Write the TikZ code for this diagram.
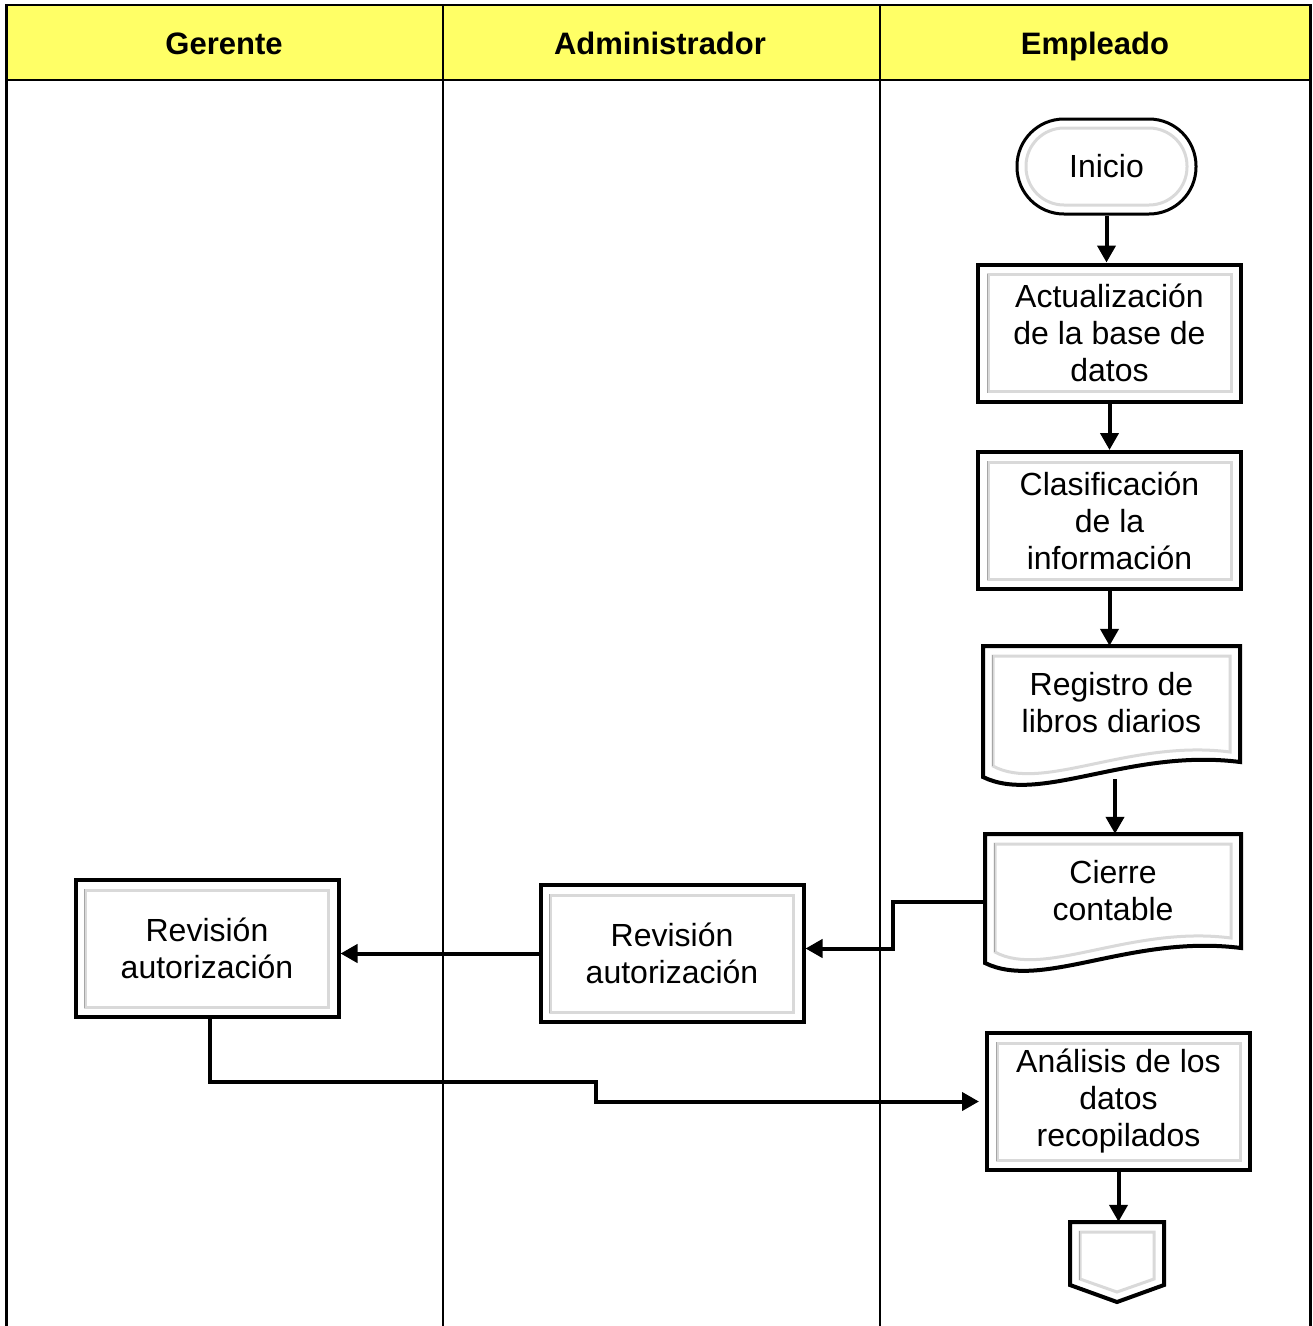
\documentclass[tikz,border=0pt]{standalone}
\usepackage{fontspec}
\setmainfont{Liberation Sans}
\usetikzlibrary{arrows.meta,positioning}
\definecolor{lanehead}{HTML}{FFFF66}

\tikzset{
  every node/.style={font=\fontsize{32}{37}\selectfont},
  lane/.style={line width=2.5pt},
  headtxt/.style={font=\bfseries\fontsize{31}{36}\selectfont, anchor=base},
  bevel/.style={path picture={
      \draw[gray!30,line width=3pt] ([shift={(10pt,-10pt)}]path picture bounding box.north west) rectangle ([shift={(-10pt,10pt)}]path picture bounding box.south east);
      \draw[gray!70,line width=1pt] ([shift={(9pt,-9pt)}]path picture bounding box.north west) -- ([shift={(9pt,9pt)}]path picture bounding box.south west);}},
  proc/.style={draw, line width=4pt, minimum width=263pt, minimum height=137pt, align=center, inner sep=0pt, bevel},
  flow/.style={line width=4pt, -{Triangle[length=17pt,width=18pt]}},
}

\begin{document}
\begin{tikzpicture}[x=1pt,y=-1pt]
\useasboundingbox (0,0) rectangle (1313,1326);

% Lane headers
\fill[lanehead] (6,5) rectangle (1310,80);
\draw[lane] (6,5) -- (1310,5);
\draw[lane] (6,80) -- (1310,80);
\draw[lane,line width=3pt] (6,4) -- (6,1326);
\draw[lane] (443,5) -- (443,1326);
\draw[lane] (880,5) -- (880,1326);
\draw[lane,line width=3pt] (1310,4) -- (1310,1326);
\node[headtxt] (hdrger) at (224,54) {Gerente};
\node[headtxt] (hdradm) at (660,54) {Administrador};
\node[headtxt] (hdremp) at (1095,54) {Empleado};

% Start
\node[draw, line width=3pt, rounded corners=47pt, minimum width=179pt, minimum height=95pt, inner sep=0pt,
  path picture={\draw[gray!30,line width=3pt,rounded corners=38pt] ([shift={(9pt,-9pt)}]path picture bounding box.north west) rectangle ([shift={(-9pt,9pt)}]path picture bounding box.south east);}]
  (inicio) at (1106.5,166.5) {Inicio};

% Process boxes
\node[proc] (actual) at (1109.5,333) {Actualización\\de la base de\\datos};
\node[proc] (clasif) at (1109.5,520.5) {Clasificación\\de la\\información};
\node[proc] (admin) at (672,953.5) {Revisión\\autorización};
\node[proc] (gerente) at (207,948.5) {Revisión\\autorización};
\node[proc] (analisis) at (1118.5,1101.5) {Análisis de los\\datos\\recopilados};

% Document shapes
\draw[line width=4pt,fill=white] (983,646) -- (1240,646) -- (1240,762) .. controls (1130,748) and (1040,805) .. (983,777) -- cycle;
\draw[gray!30,line width=3pt] (993,656) -- (1230,656) -- (1230,752) .. controls (1130,739) and (1042,793) .. (993,766) -- cycle;
\draw[gray!70,line width=1pt] (992,655) -- (992,766);
\node[minimum width=257pt, minimum height=114pt, inner sep=0pt, align=center] (registro) at (1111.5,703) {Registro de\\libros diarios};
\coordinate (regwave) at (1115,779);

\draw[line width=4pt,fill=white] (985,834) -- (1241,834) -- (1241,948) .. controls (1131,934) and (1042,991) .. (985,963) -- cycle;
\draw[gray!30,line width=3pt] (995,844) -- (1231,844) -- (1231,938) .. controls (1131,925) and (1044,979) .. (995,952) -- cycle;
\draw[gray!70,line width=1pt] (994,843) -- (994,952);
\node[minimum width=256pt, minimum height=114pt, inner sep=0pt, align=center] (cierre) at (1113,891) {Cierre\\contable};

% Off-page connector
\draw[line width=4pt,fill=white] (1070,1222) -- (1164,1222) -- (1164,1285) -- (1117,1302) -- (1070,1285) -- cycle;
\draw[gray!30,line width=3pt] (1080,1232) -- (1154,1232) -- (1154,1279) -- (1117,1292) -- (1080,1279) -- cycle;
\draw[gray!70,line width=1pt] (1079,1231) -- (1079,1280);
\node[minimum width=94pt, minimum height=80pt, inner sep=0pt] (fin) at (1117,1262) {};

% Flow
\draw[flow] (inicio.south) -- (inicio.south |- actual.north);
\draw[flow] (actual.south) -- (clasif.north);
\draw[flow] (clasif.south) -- (clasif.south |- registro.north);
\draw[flow] (regwave) -- (regwave |- cierre.north);
\draw[flow] ([yshift=-11pt]cierre.west) -- ++(-92,0) |- ([yshift=5pt]admin.east);
\draw[flow] (admin.west) -- (admin.west -| gerente.east);
\coordinate (bend) at (596,1082);
\draw[flow,shorten >=6pt] ([xshift=3pt]gerente.south) |- (bend) |- (analisis.west);
\draw[flow] (analisis.south) -- (analisis.south |- fin.north);

\end{tikzpicture}
\end{document}
